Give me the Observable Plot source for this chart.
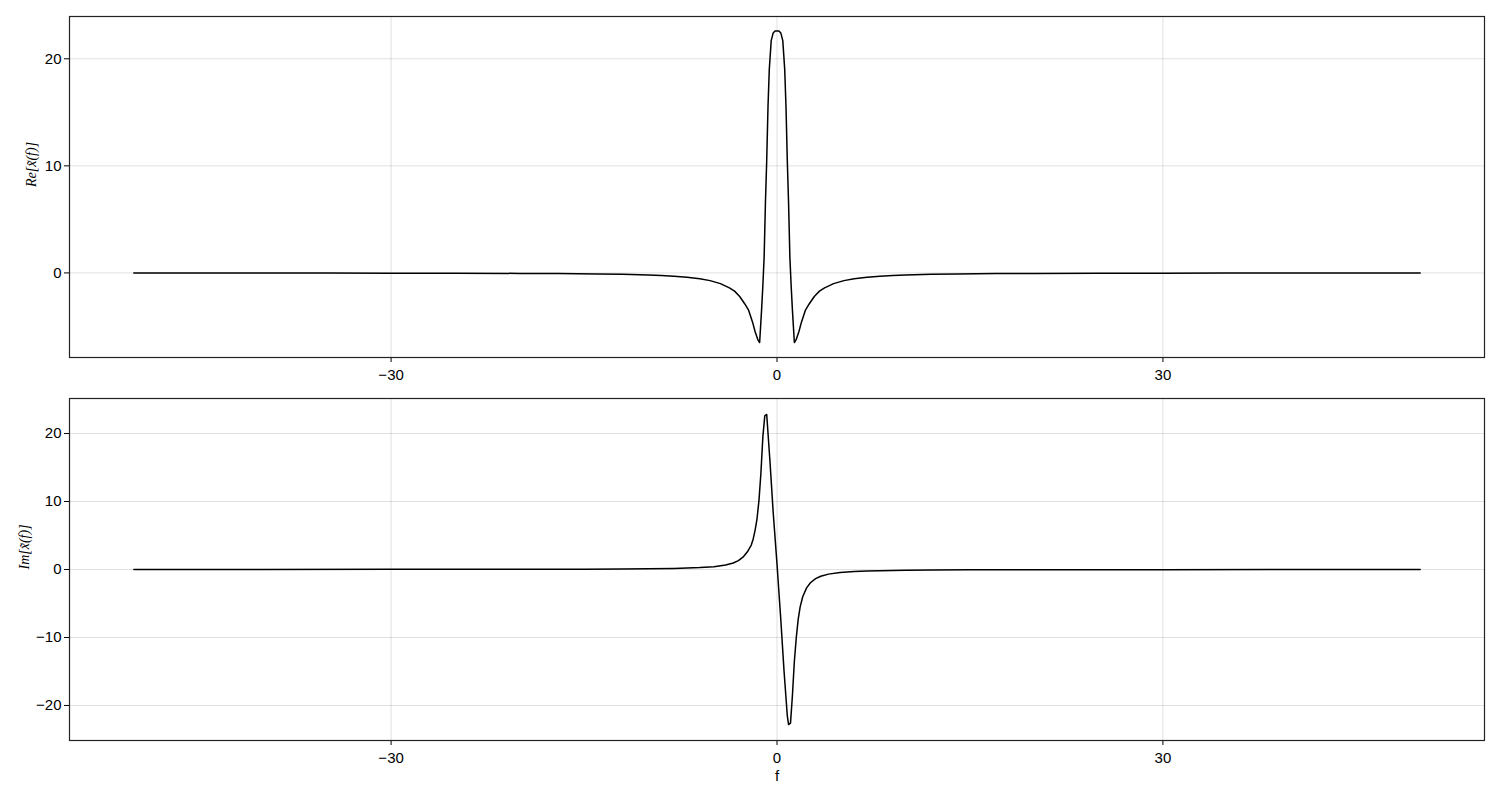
<!DOCTYPE html>
<html>
<head>
<meta charset="utf-8">
<script src="https://cdn.jsdelivr.net/npm/d3@7"></script>
<script src="https://cdn.jsdelivr.net/npm/@observablehq/plot@0.6"></script>
<style>
  html, body { margin: 0; padding: 0; background: white; }
  #chart svg { display: block; }
</style>
</head>
<body>
<div id="chart"></div>
<script>
// ---- data ----
const xTicks = [-30, 0, 30];
const reTicks = [0, 10, 20];
const imTicks = [-20, -10, 0, 10, 20];

const reF = [-50,-45,-40,-35,-30,-25,-20,-17,-14,-12,-10,-9,-8,-7,-6,-5.2,-4.4,-3.7,-3.3,-2.9,-2.5,-2.2,-1.9,-1.7,-1.5,-1.35,-1.2,-1.1,-1.0,-0.9,-0.8,-0.7,-0.6,-0.45,-0.3,-0.15,0,
  0.15,0.3,0.45,0.6,0.7,0.8,0.9,1.0,1.1,1.2,1.35,1.5,1.7,1.9,2.2,2.5,2.9,3.3,3.7,4.4,5.2,6,7,8,9,10,12,14,17,20,25,30,35,40,45,50];
const reV = [-0.008,-0.01,-0.012,-0.015,-0.02,-0.03,-0.045,-0.06,-0.09,-0.13,-0.19,-0.24,-0.3,-0.4,-0.55,-0.72,-1.0,-1.4,-1.7,-2.2,-2.9,-3.5,-4.6,-5.5,-6.2,-6.5,-3.5,-1.2,1.5,6.5,10.5,15.5,19.0,21.7,22.4,22.6,22.6,
  22.6,22.4,21.7,19.0,15.5,10.5,6.5,1.5,-1.2,-3.5,-6.5,-6.2,-5.5,-4.6,-3.5,-2.9,-2.2,-1.7,-1.4,-1.0,-0.72,-0.55,-0.4,-0.3,-0.24,-0.19,-0.13,-0.09,-0.06,-0.045,-0.03,-0.02,-0.015,-0.012,-0.01,-0.008];

const imF = [-50,-40,-30,-20,-15,-12,-10,-8,-7,-6,-4.9,-4.0,-3.4,-3.0,-2.6,-2.3,-2.0,-1.85,-1.7,-1.55,-1.4,-1.25,-1.1,-0.95,-0.8,-0.55,-0.3,0,
  0.3,0.55,0.8,0.9,1.05,1.2,1.35,1.5,1.65,1.8,2.0,2.3,2.6,3.0,3.4,4.0,4.9,6,7,8,10,12,15,20,30,40,50];
const imV = [0.01,0.012,0.02,0.035,0.05,0.08,0.11,0.16,0.21,0.28,0.42,0.65,0.95,1.3,1.9,2.6,3.6,4.5,5.8,7.5,10.2,14.2,19.5,22.6,22.8,16.0,8.5,0.8,
  -7.5,-15.0,-21.5,-22.8,-22.6,-18.5,-13.5,-10.0,-7.3,-5.5,-4.0,-2.7,-1.95,-1.35,-1.0,-0.68,-0.45,-0.3,-0.23,-0.18,-0.12,-0.085,-0.055,-0.035,-0.02,-0.012,-0.01];

const reLabel = "Re[x̃(f)]";
const imLabel = "Im[x̃(f)]";
const xLabel = "f";

// ---- build ----
const reData = reF.map((f, i) => ({f, v: reV[i]}));
const imData = imF.map((f, i) => ({f, v: imV[i]}));

const baseStyle = {
  fontFamily: "'Liberation Sans', Arial, Helvetica, sans-serif",
  fontSize: "15px",
  color: "black",
  background: "white",
  overflow: "visible"
};
const gridStroke = {stroke: "#000", strokeOpacity: 0.12, strokeWidth: 1};
const serifLabel = {fontFamily: "'Liberation Serif', 'DejaVu Serif', serif", fontStyle: "italic", fontSize: 14, fill: "black"};

function panel({data, yDomain, yTicks, label, labelDx, height, mt, mb, showF}) {
  const marks = [
    Plot.gridX(xTicks, gridStroke),
    Plot.gridY(yTicks, gridStroke),
    Plot.axisX({ticks: xTicks, tickSize: 5, tickPadding: 7, label: null}),
    Plot.axisY({ticks: yTicks, tickSize: 5, tickPadding: 3, label: null}),
    Plot.line(data, {x: "f", y: "v", stroke: "black", strokeWidth: 1.5}),
    Plot.frame({stroke: "#222", strokeWidth: 1.2}),
    Plot.text([label], {frameAnchor: "left", dx: labelDx, rotate: -90, text: d => d, ...serifLabel})
  ];
  if (showF) {
    marks.push(Plot.text([xLabel], {frameAnchor: "bottom", dy: 40, text: d => d, fontSize: 15, fill: "black"}));
  }
  return Plot.plot({
    width: 1500,
    height,
    marginLeft: 69,
    marginRight: 16,
    marginTop: mt,
    marginBottom: mb,
    x: {domain: [-55, 55]},
    y: {domain: yDomain},
    style: baseStyle,
    marks
  });
}

const topPanel = panel({data: reData, yDomain: [-7.9, 23.95], yTicks: reTicks, label: reLabel, labelDx: -38,
  height: 390, mt: 16, mb: 33, showF: false});
const bottomPanel = panel({data: imData, yDomain: [-25.15, 25.15], yTicks: imTicks, label: imLabel, labelDx: -45,
  height: 410, mt: 8, mb: 60, showF: true});

const el = document.getElementById("chart");
el.appendChild(topPanel);
el.appendChild(bottomPanel);
</script>
</body>
</html>
